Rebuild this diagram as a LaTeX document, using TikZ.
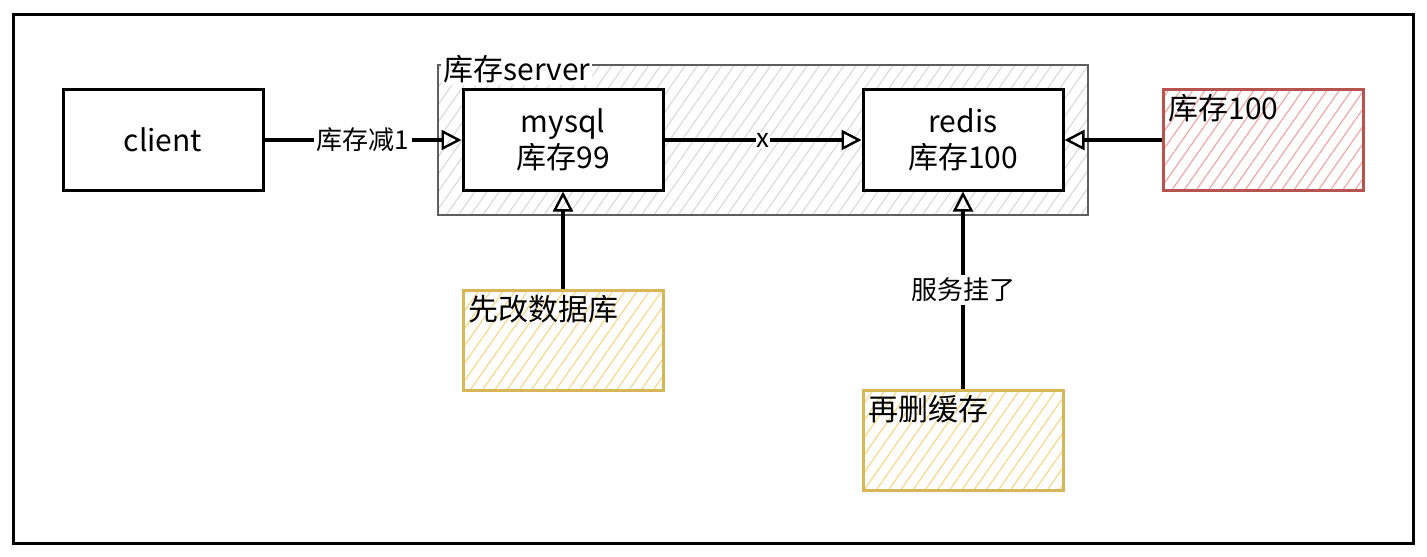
\documentclass[tikz,border=0pt]{standalone}
\usepackage{fontspec}
\setmainfont{Noto Sans CJK SC}
\usetikzlibrary{arrows.meta,patterns.meta}
\definecolor{redstroke}{HTML}{B85450}
\definecolor{redfill}{HTML}{F0A8A6}
\definecolor{yelstroke}{HTML}{D6B656}
\definecolor{yelfill}{HTML}{F5D98A}
\definecolor{grpstroke}{HTML}{5E5E5E}
\definecolor{grpfill}{HTML}{D6D6D6}
\tikzset{
  px/.style={x=0.5pt,y=-0.5pt},
  boxtext/.style={font=\fontsize{15}{18}\selectfont},
  plainbox/.style={draw=black,line width=1.5pt,minimum width=100pt,minimum height=50pt,inner sep=0pt,align=center,boxtext},
  notebox/.style={line width=1.5pt,minimum width=100pt,minimum height=50pt,inner sep=0pt},
  redbox/.style={notebox,draw=redstroke,pattern={Lines[angle=55,distance=5pt,line width=0.6pt]},pattern color=redfill},
  yelbox/.style={notebox,draw=yelstroke,pattern={Lines[angle=55,distance=5pt,line width=0.6pt]},pattern color=yelfill},
  grpbox/.style={draw=grpstroke,line width=1.1pt,minimum width=325pt,minimum height=75pt,inner sep=0pt,pattern={Lines[angle=55,distance=5pt,line width=0.5pt]},pattern color=grpfill},
  conn/.style={draw=black,line width=1.6pt,-{Triangle[open,length=10pt,width=10pt,line width=1.2pt]}},
  edgelabel/.style={fill=white,inner sep=1.5pt,font=\fontsize{13}{15}\selectfont},
  notetext/.style={anchor=north west,inner sep=0pt,boxtext},
}
\begin{document}
\begin{tikzpicture}[px]
\useasboundingbox (0,0) rectangle (1427,556);
\fill[white] (0,0) rectangle (1427,556);
% outer frame
\draw[line width=1.5pt] (13,15) rectangle (1413,543);
% group
\node[grpbox] (grp) at (763,140) {};
\node[anchor=south west,inner sep=1pt,fill=white,font=\fontsize{15}{17}\selectfont] (grplabel) at (441,85) {库存server};
% boxes
\node[plainbox] (client) at (163,140) {client};
\node[plainbox,fill=white] (mysql) at (563,140) {mysql\\库存99};
\node[plainbox,fill=white] (redis) at (963,140) {redis\\库存100};
\node[redbox] (stock) at (1263,140) {};
\node[notetext] (stocktext) at (1168,94) {库存100};
\node[yelbox] (first) at (563,340) {};
\node[notetext] (firsttext) at (468,295) {先改数据库};
\node[yelbox] (then) at (963,440) {};
\node[notetext] (thentext) at (868,395) {再删缓存};
% connectors
\draw[conn] (client) -- node[edgelabel] (l1) {库存减1} (mysql);
\draw[conn] (mysql) -- node[edgelabel,inner sep=0.5pt] (l2) {x} (redis);
\draw[conn] (stock) -- (redis);
\draw[conn] (first) -- (mysql);
\draw[conn] (then) -- node[edgelabel,pos=0.5] (l3) {服务挂了} (redis);
\end{tikzpicture}
\end{document}
